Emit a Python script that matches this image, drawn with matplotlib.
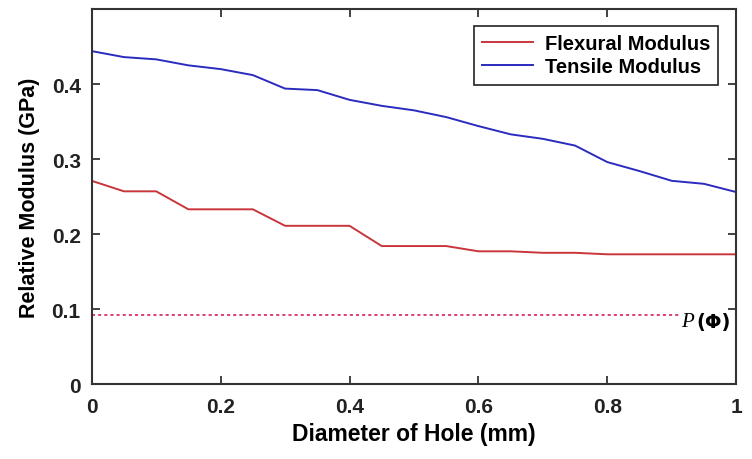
import matplotlib
matplotlib.use("Agg")
import matplotlib.pyplot as plt

# diameter of hole (mm), 0.05 steps
diameter = [0.0, 0.05, 0.1, 0.15, 0.2, 0.25, 0.3, 0.35, 0.4, 0.45, 0.5,
            0.55, 0.6, 0.65, 0.7, 0.75, 0.8, 0.85, 0.9, 0.95, 1.0]

flexural = [0.271, 0.257, 0.257, 0.233, 0.233, 0.233, 0.211, 0.211, 0.211, 0.184, 0.184,
            0.184, 0.177, 0.177, 0.175, 0.175, 0.173, 0.173, 0.173, 0.173, 0.173]

tensile = [0.444, 0.436, 0.433, 0.425, 0.420, 0.412, 0.394, 0.392, 0.379, 0.371, 0.365,
           0.356, 0.344, 0.333, 0.327, 0.318, 0.296, 0.284, 0.271, 0.267, 0.256]

p_phi = 0.092
x_ticks = [0, 0.2, 0.4, 0.6, 0.8, 1]
x_labels = ["0", "0.2", "0.4", "0.6", "0.8", "1"]
y_ticks = [0, 0.1, 0.2, 0.3, 0.4]
y_labels = ["0", "0.1", "0.2", "0.3", "0.4"]

plt.rcParams['font.family'] = ['Liberation Sans', 'DejaVu Sans']

fig = plt.figure(figsize=(7.52, 4.6), dpi=100)
ax = fig.add_axes([0.122, 0.163, 0.857, 0.815])

ax.plot(diameter, flexural, color="#c8363c", lw=1.4, label="Flexural Modulus")
ax.plot(diameter, tensile, color="#2b2bbf", lw=1.4, label="Tensile Modulus")
ax.plot([0, 0.915], [p_phi, p_phi], color="#d8336a", lw=1.3, ls=(0, (1.7, 1.7)))

# P(Φ) marker text at the end of the dotted line
ax.text(0.915, p_phi - 0.008, "P", fontsize=15, family="Liberation Serif",
        style="italic", va="center", ha="left")
ax.text(0.938, p_phi - 0.008, "(Φ)", fontsize=14, fontweight="bold",
        family=["DejaVu Sans"], va="center", ha="left")

ax.set_xlim(0, 1)
ax.set_ylim(0, 0.5)
ax.set_xticks(x_ticks)
ax.set_xticklabels(x_labels)
ax.set_yticks(y_ticks)
ax.set_yticklabels(y_labels)
ax.tick_params(direction="in", top=True, right=True, length=6, width=1.2,
               labelsize=15, pad=8, colors="#222222")
ax.tick_params(axis="x", pad=9)
for lab in ax.get_xticklabels() + ax.get_yticklabels():
    lab.set_fontweight("bold")
for sp in ax.spines.values():
    sp.set_linewidth(1.5)
    sp.set_color("#333333")

ax.set_xlabel("Diameter of Hole (mm)", fontsize=16.5, fontweight="bold", labelpad=5)
ax.set_ylabel("Relative Modulus (GPa)", fontsize=15.5, fontweight="bold", labelpad=8)

leg = ax.legend(loc="upper right", fancybox=False, framealpha=1,
                prop={"weight": "bold", "size": 14.5}, handlelength=2.5,
                handletextpad=0.6, borderpad=0.4, labelspacing=0.22,
                borderaxespad=0, bbox_to_anchor=(0.972, 0.955))
leg.get_frame().set_edgecolor("#222222")
leg.get_frame().set_linewidth(1.2)

fig.savefig("out.png", dpi=100)
